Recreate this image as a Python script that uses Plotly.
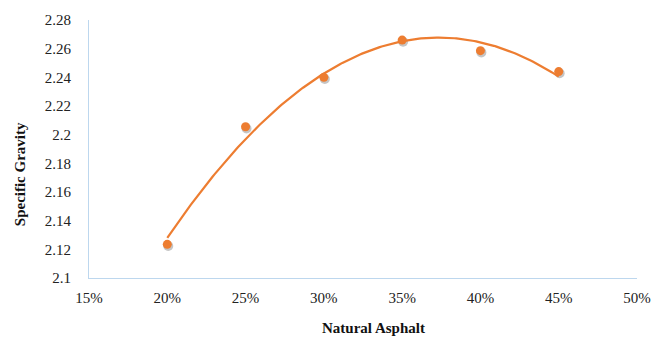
import numpy as np
import plotly.graph_objects as go

# Measured specific gravity against natural asphalt content
asphalt_pct = [0.20, 0.25, 0.30, 0.35, 0.40, 0.45]
specific_gravity = [2.1235, 2.2055, 2.240, 2.266, 2.2586, 2.244]

x_tick_vals = [0.15, 0.20, 0.25, 0.30, 0.35, 0.40, 0.45, 0.50]
x_tick_text = ["15%", "20%", "25%", "30%", "35%", "40%", "45%", "50%"]
y_tick_vals = [2.10, 2.12, 2.14, 2.16, 2.18, 2.20, 2.22, 2.24, 2.26, 2.28]
y_tick_text = ["2.1", "2.12", "2.14", "2.16", "2.18", "2.2", "2.22", "2.24", "2.26", "2.28"]

ORANGE = "#ED7D31"
AXIS_BLUE = "#BDD7EE"
FONT = "Liberation Serif"

# Second-order polynomial trendline over the measured range
coef = np.polyfit(asphalt_pct, specific_gravity, 2)
trend_x = np.linspace(min(asphalt_pct), max(asphalt_pct), 200)
trend_y = np.polyval(coef, trend_x)

W, H = 666, 339
left, right, top, bottom = 89, 637, 17, 278

fig = go.Figure()

# soft drop shadow under each marker
fig.add_trace(go.Scatter(
    x=[v + 0.0006 for v in asphalt_pct],
    y=[v - 0.0012 for v in specific_gravity],
    mode="markers",
    marker=dict(size=10, color="rgba(90,90,90,0.35)", line=dict(width=0)),
    hoverinfo="skip", showlegend=False,
))
fig.add_trace(go.Scatter(
    x=trend_x, y=trend_y, mode="lines",
    line=dict(color=ORANGE, width=2.2),
    showlegend=False,
))
fig.add_trace(go.Scatter(
    x=asphalt_pct, y=specific_gravity, mode="markers",
    marker=dict(size=9, color=ORANGE, line=dict(width=0)),
    showlegend=False,
))

tick_font = dict(family=FONT, size=15, color="#222222")

fig.update_layout(
    width=W, height=H,
    margin=dict(l=left, r=W - right, t=top, b=H - bottom),
    paper_bgcolor="white", plot_bgcolor="white",
    font=dict(family=FONT, size=15, color="#222222"),
    xaxis=dict(
        range=[0.15, 0.50], tickvals=x_tick_vals, ticktext=x_tick_text,
        showgrid=False, zeroline=False, showline=True, linecolor=AXIS_BLUE,
        linewidth=1.2, ticks="", ticklen=0, ticklabelstandoff=6,
        tickfont=tick_font,
    ),
    yaxis=dict(
        range=[2.10, 2.28], tickvals=y_tick_vals, ticktext=y_tick_text,
        showgrid=False, zeroline=False, showline=True, linecolor=AXIS_BLUE,
        linewidth=1.2, ticks="", ticklen=0, ticklabelstandoff=14,
        tickfont=tick_font,
    ),
    annotations=[
        dict(text="<b>Natural Asphalt</b>", xref="paper", yref="paper",
             x=(373 - left) / (right - left), y=-(329 - bottom) / (bottom - top),
             xanchor="center", yanchor="middle", showarrow=False,
             font=dict(family=FONT, size=15, color="#111111")),
        dict(text="<b>Specific Gravity</b>", xref="paper", yref="paper",
             x=-(left - 20) / (right - left), y=(bottom - 173) / (bottom - top),
             xanchor="center", yanchor="middle", textangle=-90, showarrow=False,
             font=dict(family=FONT, size=15, color="#111111")),
    ],
)

fig.write_html("out.html")
